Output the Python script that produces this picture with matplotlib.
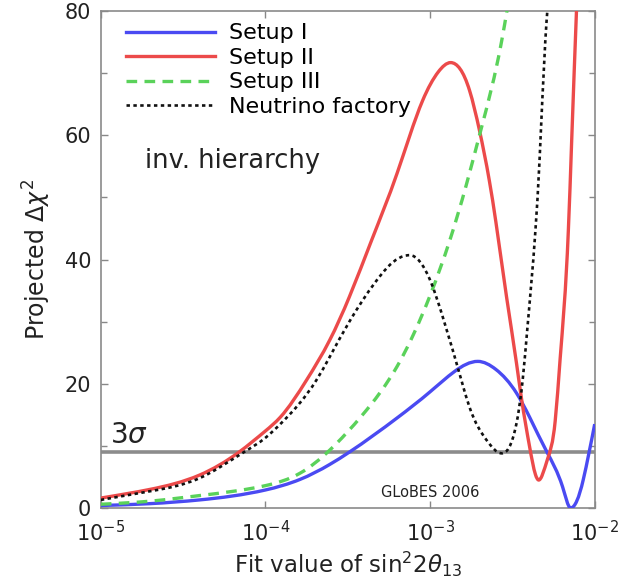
import matplotlib
matplotlib.use("Agg")
import matplotlib.pyplot as plt
from matplotlib.path import Path
from matplotlib.patches import PathPatch
from matplotlib.lines import Line2D
from matplotlib.ticker import FixedLocator, NullLocator, LogFormatterMathtext
import numpy as np

plt.rcParams['font.family'] = ['DejaVu Sans']
plt.rcParams['mathtext.fontset'] = 'dejavusans'

# log10 of the fit value of sin^2 2theta13, and projected delta chi^2
setup1_logx = [-5.0, -4.7, -4.4, -4.0, -3.79, -3.61, -3.49, -3.2, -3.0, -2.85,
               -2.71, -2.6, -2.475, -2.395, -2.29, -2.195, -2.146, -2.07, -2.0]
setup1_chi2 = [0.4, 0.7, 1.3, 2.9, 4.6, 7.0, 9.0, 14.5, 18.7, 22.0,
               23.6, 22.3, 18.5, 14.6, 9.0, 3.4, 0.0, 4.5, 13.5]

setup2_logx = [-5.0, -4.7, -4.4, -4.16, -4.0, -3.91, -3.75, -3.61, -3.49, -3.355,
               -3.2, -3.045, -2.95, -2.875, -2.76, -2.70, -2.64, -2.6, -2.535,
               -2.475, -2.444, -2.395, -2.36, -2.34, -2.32, -2.285, -2.24, -2.21,
               -2.16, -2.14, -2.11]
setup2_chi2 = [1.6, 3.0, 5.3, 9.0, 12.4, 14.6, 20.6, 27.0, 34.0, 43.1,
               53.9, 65.6, 70.2, 71.7, 67.2, 60.8, 52.7, 46.0, 33.9,
               23.3, 17.5, 9.8, 5.4, 4.5, 5.2, 8.0, 14.0, 24.0,
               44.7, 59.0, 80.5]

setup3_logx = [-5.0, -4.7, -4.4, -4.0, -3.79, -3.61, -3.41, -3.2, -3.0, -2.88,
               -2.78, -2.69, -2.565, -2.53]
setup3_chi2 = [0.6, 1.1, 2.0, 3.6, 5.6, 9.3, 15.0, 22.8, 34.2, 43.1,
               52.0, 61.0, 75.2, 80.5]

nufact_logx = [-5.0, -4.7, -4.4, -4.13, -4.0, -3.91, -3.69, -3.61, -3.49, -3.41,
               -3.26, -3.124, -3.0, -2.92, -2.81, -2.76, -2.656, -2.565, -2.476,
               -2.436, -2.41, -2.36, -2.335, -2.30, -2.285]
nufact_chi2 = [1.3, 2.7, 4.8, 9.0, 11.3, 13.5, 20.6, 24.3, 30.0, 33.4,
               38.7, 40.7, 36.7, 30.5, 20.6, 16.2, 10.9, 8.8, 13.5,
               21.0, 28.6, 44.7, 56.0, 75.2, 81.0]

three_sigma = 9.0


def smooth_path(logx, y):
    """Cubic Bezier path through the points (natural-spline tangents,
    flat at turning points), built in log-x space for the log axis."""
    lx = np.asarray(logx, float)
    y = np.asarray(y, float)
    n = len(y)
    h = np.diff(lx)
    d = np.diff(y) / h
    A = np.zeros((n, n))
    r = np.zeros(n)
    A[0, 0], A[0, 1], r[0] = 2.0, 1.0, 3 * d[0]
    A[-1, -2], A[-1, -1], r[-1] = 1.0, 2.0, 3 * d[-1]
    for i in range(1, n - 1):
        A[i, i - 1] = h[i]
        A[i, i] = 2 * (h[i - 1] + h[i])
        A[i, i + 1] = h[i - 1]
        r[i] = 3 * (h[i] * d[i - 1] + h[i - 1] * d[i])
    m = np.linalg.solve(A, r)
    for i in range(1, n - 1):
        if d[i - 1] * d[i] <= 0:
            m[i] = 0.0
    verts = [(lx[0], y[0])]
    codes = [Path.MOVETO]
    for i in range(n - 1):
        verts += [(lx[i] + h[i] / 3, y[i] + m[i] * h[i] / 3),
                  (lx[i + 1] - h[i] / 3, y[i + 1] - m[i + 1] * h[i] / 3),
                  (lx[i + 1], y[i + 1])]
        codes += [Path.CURVE4] * 3
    verts = np.array(verts)
    verts[:, 0] = 10 ** verts[:, 0]
    return Path(verts, codes)


fig = plt.figure(figsize=(6.26, 5.87), dpi=100)
ax = fig.add_axes([0.161, 0.1346, 0.789, 0.8466])
ax.set_xscale('log')
ax.set_xlim(1e-5, 1e-2)
ax.set_ylim(0, 80)

ax.axhline(three_sigma, color='#8c8c8c', lw=2.6, zorder=1)

series = [
    (setup1_logx, setup1_chi2, 'Setup I',
     dict(color='#4a4af2', lw=2.4, ls='-'), 3),
    (setup2_logx, setup2_chi2, 'Setup II',
     dict(color='#ec4a4a', lw=2.4, ls='-'), 3),
    (setup3_logx, setup3_chi2, 'Setup III',
     dict(color='#5ad25a', lw=2.4, ls=(0, (3.2, 2.2))), 3),
    (nufact_logx, nufact_chi2, 'Neutrino factory',
     dict(color='#111111', lw=1.9, ls=(0, (1.3, 1.3))), 4),
]
handles = []
for lx, yy, name, style, z in series:
    patch = PathPatch(smooth_path(lx, yy), fill=False, edgecolor=style['color'],
                      lw=style['lw'], ls=style['ls'], zorder=z,
                      capstyle='butt', joinstyle='round')
    ax.add_patch(patch)
    handles.append(Line2D([], [], color=style['color'], lw=style['lw'],
                          ls=style['ls'], label=name))

ax.xaxis.set_major_locator(FixedLocator([1e-5, 1e-4, 1e-3, 1e-2]))
ax.xaxis.set_minor_locator(NullLocator())
ax.xaxis.set_major_formatter(LogFormatterMathtext())
ax.yaxis.set_major_locator(FixedLocator([0, 20, 40, 60, 80]))
ax.yaxis.set_minor_locator(FixedLocator([10, 30, 50, 70]))

ax.tick_params(which='both', direction='in', top=True, right=True,
               color='#888888', labelsize=15, length=5, width=1,
               labelcolor='#222222')
ax.tick_params(which='minor', length=4)
ax.tick_params(axis='x', pad=9)
ax.tick_params(axis='y', pad=7)
for s in ax.spines.values():
    s.set_color('#8a8a8a')
    s.set_linewidth(1.2)

ax.set_xlabel(r'Fit value of sin$^2$2$\theta_{13}$', fontsize=16.5,
              color='#222222', labelpad=3)
ax.set_ylabel(r'Projected $\Delta\chi^2$', fontsize=17, color='#222222',
              labelpad=8)

ax.legend(handles=handles, loc='upper left', frameon=False, fontsize=16,
          handlelength=4.0, handletextpad=0.6, labelspacing=0.2,
          borderaxespad=0.0, bbox_to_anchor=(0.034, 0.993))

ax.text(0.09, 0.685, 'inv. hierarchy', transform=ax.transAxes, fontsize=18.5,
        color='#222222')
ax.text(0.018, 0.13, r'$3\sigma$', transform=ax.transAxes, fontsize=20,
        color='#222222')
ax.text(0.666, 0.022, 'GLoBES 2006', transform=ax.transAxes, fontsize=10.5,
        ha='center', color='#222222')

fig.savefig('out.png', dpi=100, facecolor='white')
